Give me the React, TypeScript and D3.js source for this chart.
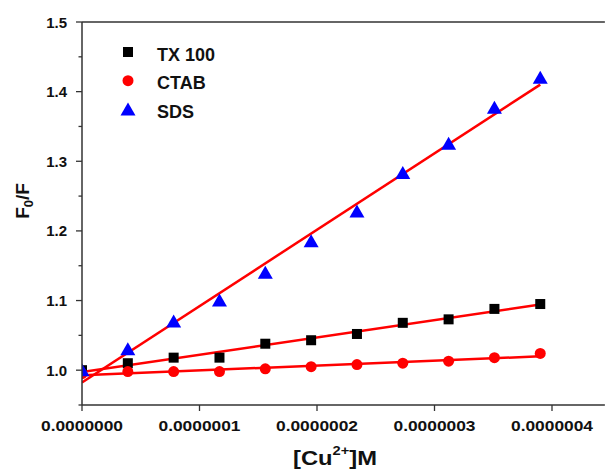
import { useRef, useEffect } from "react";
import * as d3 from "d3";

// concentration of Cu2+ (M)
const conc = [0, 0.39e-7, 0.78e-7, 1.17e-7, 1.56e-7, 1.95e-7, 2.34e-7, 2.73e-7, 3.12e-7, 3.51e-7, 3.9e-7];
const tx100 = [1.0, 1.01, 1.018, 1.018, 1.038, 1.043, 1.052, 1.068, 1.073, 1.088, 1.095];
const ctab = [0.995, 0.998, 0.998, 0.998, 1.002, 1.005, 1.008, 1.01, 1.013, 1.018, 1.024];
const sds = [1.0, 1.03, 1.07, 1.1, 1.14, 1.185, 1.228, 1.283, 1.325, 1.377, 1.42];

const xTicks = [0, 1e-7, 2e-7, 3e-7, 4e-7];
const yTicks = [1.0, 1.1, 1.2, 1.3, 1.4, 1.5];
const yMinor = [0.95, 1.05, 1.15, 1.25, 1.35, 1.45];

const series = [
  { name: "TX 100", values: tx100, shape: "square", color: "#000000" },
  { name: "CTAB", values: ctab, shape: "circle", color: "#ff0000" },
  { name: "SDS", values: sds, shape: "triangle", color: "#0000ff" },
];

// least squares fit
const fit = (xs: number[], ys: number[]) => {
  const mx = d3.mean(xs)!;
  const my = d3.mean(ys)!;
  const b = d3.sum(xs, (x, i) => (x - mx) * (ys[i] - my)) / d3.sum(xs, (x) => (x - mx) ** 2);
  return { a: my - b * mx, b };
};

const App = () => {
  const svgRef = useRef<SVGSVGElement>(null);

  useEffect(() => {
    const svg = d3.select(svgRef.current);
    svg.selectAll("*").remove();

    const width = 605;
    const height = 474;
    const margin = { top: 22, right: 0, bottom: 69, left: 82 };
    const font = "Arial, 'Liberation Sans', sans-serif";
    const axisColor = "#333";

    const x = d3.scaleLinear().domain([0, 4.45e-7]).range([margin.left, margin.left + 117.5 * 4.45]);
    const y = d3.scaleLinear().domain([0.95, 1.5]).range([height - margin.bottom, margin.top]);

    svg.attr("width", width).attr("height", height);
    svg.append("rect").attr("width", width).attr("height", height).attr("fill", "white");

    const x0 = x(0);
    const y0 = y(0.95);
    const xEnd = x(4.45e-7);

    svg.append("clipPath").attr("id", "plot-clip")
      .append("rect").attr("x", x0).attr("y", y(1.5)).attr("width", xEnd - x0).attr("height", y0 - y(1.5));

    // fit lines
    const plot = svg.append("g").attr("clip-path", "url(#plot-clip)");
    series.forEach((s) => {
      const f = fit(conc, s.values);
      const last = conc[conc.length - 1];
      plot.append("line")
        .attr("x1", x(0)).attr("y1", y(f.a))
        .attr("x2", x(last)).attr("y2", y(f.a + f.b * last))
        .attr("stroke", "#ff0000").attr("stroke-width", 2.5);
    });

    const drawMarker = (g: any, shape: string, color: string, cx: number, cy: number) => {
      if (shape === "square") {
        g.append("rect").attr("x", cx - 5).attr("y", cy - 5).attr("width", 10).attr("height", 10).attr("fill", color);
      } else if (shape === "circle") {
        g.append("circle").attr("cx", cx).attr("cy", cy).attr("r", 5.5).attr("fill", color);
      } else {
        g.append("path").attr("d", `M${cx},${cy - 7}L${cx + 7.5},${cy + 6}L${cx - 7.5},${cy + 6}Z`).attr("fill", color);
      }
    };

    // points
    series.forEach((s) => {
      const g = plot.append("g");
      s.values.forEach((v, i) => drawMarker(g, s.shape, s.color, x(conc[i]), y(v)));
    });

    // frame lines
    svg.append("line").attr("x1", x0).attr("x2", x0).attr("y1", y(1.5)).attr("y2", y0)
      .attr("stroke", axisColor).attr("stroke-width", 1.5);
    svg.append("line").attr("x1", x0).attr("x2", xEnd).attr("y1", y0).attr("y2", y0)
      .attr("stroke", axisColor).attr("stroke-width", 1.5);
    svg.append("line").attr("x1", x0).attr("x2", xEnd).attr("y1", y(1.5)).attr("y2", y(1.5))
      .attr("stroke", axisColor).attr("stroke-width", 1.5);

    // y ticks
    svg.selectAll(".ytick").data(yTicks).join("line")
      .attr("x1", x0 - 6).attr("x2", x0).attr("y1", (d) => y(d)).attr("y2", (d) => y(d))
      .attr("stroke", axisColor).attr("stroke-width", 1.3);
    svg.selectAll(".yminor").data(yMinor).join("line")
      .attr("x1", x0 - 3.5).attr("x2", x0).attr("y1", (d) => y(d)).attr("y2", (d) => y(d))
      .attr("stroke", axisColor).attr("stroke-width", 1.3);
    svg.selectAll(".ylabel").data(yTicks).join("text")
      .attr("x", x0 - 15).attr("y", (d) => y(d) + 5.5)
      .attr("text-anchor", "end").attr("font-family", font).attr("font-weight", "bold")
      .attr("font-size", 15).attr("fill", "#111")
      .text((d) => d.toFixed(1));

    // x ticks
    svg.selectAll(".xtick").data(xTicks).join("line")
      .attr("x1", (d) => x(d)).attr("x2", (d) => x(d)).attr("y1", y0).attr("y2", y0 + 6)
      .attr("stroke", axisColor).attr("stroke-width", 1.3);
    svg.selectAll(".xlabel").data(xTicks).join("text")
      .attr("x", (d) => x(d) - 41).attr("y", y0 + 25.5)
      .attr("font-family", font).attr("font-weight", "bold")
      .attr("font-size", 14).attr("fill", "#111")
      .attr("textLength", 82).attr("lengthAdjust", "spacingAndGlyphs")
      .text((d) => d.toFixed(7));

    // axis titles
    const xt = svg.append("text").attr("x", 293).attr("y", 465)
      .attr("font-family", font).attr("font-weight", "bold")
      .attr("font-size", 21).attr("fill", "#111")
      .attr("textLength", 84).attr("lengthAdjust", "spacingAndGlyphs");
    xt.append("tspan").text("[Cu");
    xt.append("tspan").attr("dy", -10).attr("font-size", 13).text("2+");
    xt.append("tspan").attr("dy", 10).text("]M");

    const yt = svg.append("text").attr("transform", `translate(29, 201) rotate(-90)`)
      .attr("text-anchor", "middle").attr("font-family", font).attr("font-weight", "bold")
      .attr("font-size", 19).attr("fill", "#111");
    yt.append("tspan").text("F");
    yt.append("tspan").attr("dy", 4).attr("font-size", 13).text("0");
    yt.append("tspan").attr("dy", -4).text("/F");

    // legend
    series.forEach((s, i) => {
      const ly = 52 + i * 28.7;
      drawMarker(svg, s.shape, s.color, 128, ly);
      svg.append("text").attr("x", 157).attr("y", ly + 8.5)
        .attr("font-family", font).attr("font-weight", "bold").attr("font-size", 18).attr("fill", "#111")
        .text(s.name);
    });
  }, []);

  return <svg ref={svgRef} style={{ position: "absolute", left: 0, top: 0 }}></svg>;
};

export default App;
